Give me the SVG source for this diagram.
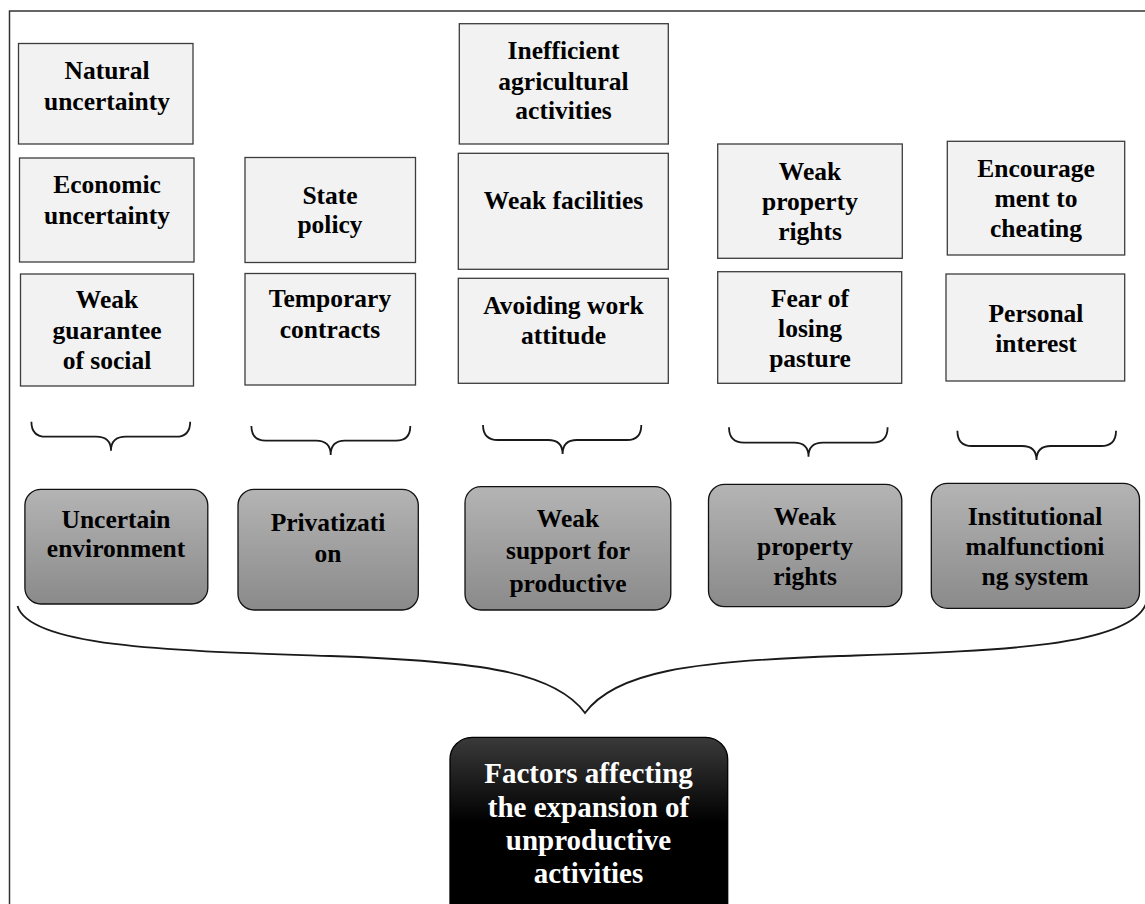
<svg xmlns="http://www.w3.org/2000/svg" width="1145" height="904" viewBox="0 0 1145 904">
<defs>
<linearGradient id="gGray" x1="0" y1="0" x2="0" y2="1">
<stop offset="0" stop-color="#b4b4b4"/>
<stop offset="1" stop-color="#8a8a8a"/>
</linearGradient>
<linearGradient id="gBlack" x1="0" y1="0" x2="0" y2="1">
<stop offset="0" stop-color="#3a3a3a"/>
<stop offset="0.45" stop-color="#000000"/>
<stop offset="1" stop-color="#000000"/>
</linearGradient>
<style>
.lb{fill:#f2f2f2;stroke:#3c3c3c;stroke-width:1.3}
.gb{fill:url(#gGray);stroke:#111;stroke-width:1.3}
.t{font-family:"Liberation Serif","Times New Roman",serif;font-weight:bold;font-size:25.5px;fill:#000;text-anchor:middle}
.tw{font-family:"Liberation Serif","Times New Roman",serif;font-weight:bold;font-size:29px;fill:#fff;text-anchor:middle}
.br{fill:none;stroke:#1a1a1a;stroke-width:1.8}
</style>
</defs>
<rect x="0" y="0" width="1145" height="904" fill="#fff"/>
<path d="M9.5,910 V11 H1150" fill="none" stroke="#333" stroke-width="1.5"/>

<g id="n-natural"><rect class="lb" x="18.5" y="43.5" width="174.5" height="100.5"/><text class="t" x="107" y="79">Natural</text><text class="t" x="107" y="110">uncertainty</text></g>
<g id="n-economic"><rect class="lb" x="19.5" y="158" width="174.5" height="104"/><text class="t" x="107" y="193">Economic</text><text class="t" x="107" y="224">uncertainty</text></g>
<g id="n-guarantee"><rect class="lb" x="20.5" y="274" width="173" height="112"/><text class="t" x="107" y="308">Weak</text><text class="t" x="107" y="339">guarantee</text><text class="t" x="107" y="369">of social</text></g>

<g id="n-state"><rect class="lb" x="245" y="157.5" width="170.5" height="105"/><text class="t" x="330" y="204">State</text><text class="t" x="330" y="233">policy</text></g>
<g id="n-temporary"><rect class="lb" x="245" y="273.5" width="170.5" height="111.5"/><text class="t" x="330" y="307">Temporary</text><text class="t" x="330" y="338">contracts</text></g>

<g id="n-inefficient"><rect class="lb" x="459.3" y="23.7" width="209" height="120.3"/><text class="t" x="563.5" y="59">Inefficient</text><text class="t" x="563.5" y="90">agricultural</text><text class="t" x="563.5" y="119">activities</text></g>
<g id="n-facilities"><rect class="lb" x="458.3" y="153.3" width="210" height="116"/><text class="t" x="563.5" y="209">Weak facilities</text></g>
<g id="n-avoiding"><rect class="lb" x="458.3" y="278.3" width="210" height="105"/><text class="t" x="563.5" y="314">Avoiding work</text><text class="t" x="563.5" y="344">attitude</text></g>

<g id="n-property"><rect class="lb" x="717.7" y="144" width="184.6" height="114.3"/><text class="t" x="810" y="180">Weak</text><text class="t" x="810" y="209.5">property</text><text class="t" x="810" y="240">rights</text></g>
<g id="n-fear"><rect class="lb" x="717.7" y="271.7" width="184" height="111.6"/><text class="t" x="810" y="306.5">Fear of</text><text class="t" x="810" y="336.5">losing</text><text class="t" x="810" y="366.5">pasture</text></g>

<g id="n-encourage"><rect class="lb" x="947.3" y="141.3" width="177.4" height="113.7"/><text class="t" x="1036" y="176.5">Encourage</text><text class="t" x="1036" y="207">ment to</text><text class="t" x="1036" y="237">cheating</text></g>
<g id="n-personal"><rect class="lb" x="946" y="274" width="178.7" height="107"/><text class="t" x="1036" y="321.5">Personal</text><text class="t" x="1036" y="351.5">interest</text></g>

<g id="n-uncertain"><rect class="gb" x="24.9" y="489.3" width="182.9" height="114.7" rx="16"/><text class="t" x="116" y="528">Uncertain</text><text class="t" x="116" y="556.5">environment</text></g>
<g id="n-privatization"><rect class="gb" x="238" y="489.3" width="180.3" height="120.7" rx="16"/><text class="t" x="328" y="530.5">Privatizati</text><text class="t" x="328" y="561.5">on</text></g>
<g id="n-support"><rect class="gb" x="465" y="486.7" width="205.8" height="123.3" rx="16"/><text class="t" x="568" y="527">Weak</text><text class="t" x="568" y="559">support for</text><text class="t" x="568" y="591.5">productive</text></g>
<g id="n-rights"><rect class="gb" x="708.5" y="484.3" width="193.3" height="122.4" rx="16"/><text class="t" x="805" y="525">Weak</text><text class="t" x="805" y="555">property</text><text class="t" x="805" y="585">rights</text></g>
<g id="n-institutional"><rect class="gb" x="931.3" y="483.3" width="208.2" height="125" rx="16"/><text class="t" x="1035" y="525">Institutional</text><text class="t" x="1035" y="555">malfunctioni</text><text class="t" x="1035" y="585">ng system</text></g>

<g id="n-factors"><rect x="450" y="737.3" width="277.7" height="190" rx="22" fill="url(#gBlack)" stroke="#000" stroke-width="1.3"/><text class="tw" x="588.5" y="783">Factors affecting</text><text class="tw" x="588.5" y="816.5">the expansion of</text><text class="tw" x="588.5" y="850">unproductive</text><text class="tw" x="588.5" y="883">activities</text></g>

<g id="connectors">
<path class="br" d="M31.4,421.7 Q31.4,436.7 46,436.7 H96 Q111,436.7 111,450.7 Q111,436.7 126,436.7 H176 Q190.2,436.7 190.2,421.7"/>
<path class="br" d="M251.4,426 Q251.4,440.7 266,440.7 H316 Q330.7,440.7 330.7,455 Q330.7,440.7 345,440.7 H396 Q410.3,440.7 410.3,426"/>
<path class="br" d="M483,425 Q483,440 498,440 H548 Q562.6,440 562.6,454 Q562.6,440 577,440 H627 Q641.3,440 641.3,425"/>
<path class="br" d="M729,427.3 Q729,442.7 744,442.7 H794 Q808.5,442.7 808.5,456.7 Q808.5,442.7 823,442.7 H873 Q887.6,442.7 887.6,427.3"/>
<path class="br" d="M957.4,430.7 Q957.4,446 972,446 H1022 Q1036.5,446 1036.5,460 Q1036.5,446 1051,446 H1101 Q1116,446 1116,430.7"/>
<path class="br" d="M17.5,606 C30,648 180,651 330,656 C480,661 555,672 585,713 C615,672 690,661 840,656 C990,651 1128,648 1146,604"/>
</g>
</svg>
